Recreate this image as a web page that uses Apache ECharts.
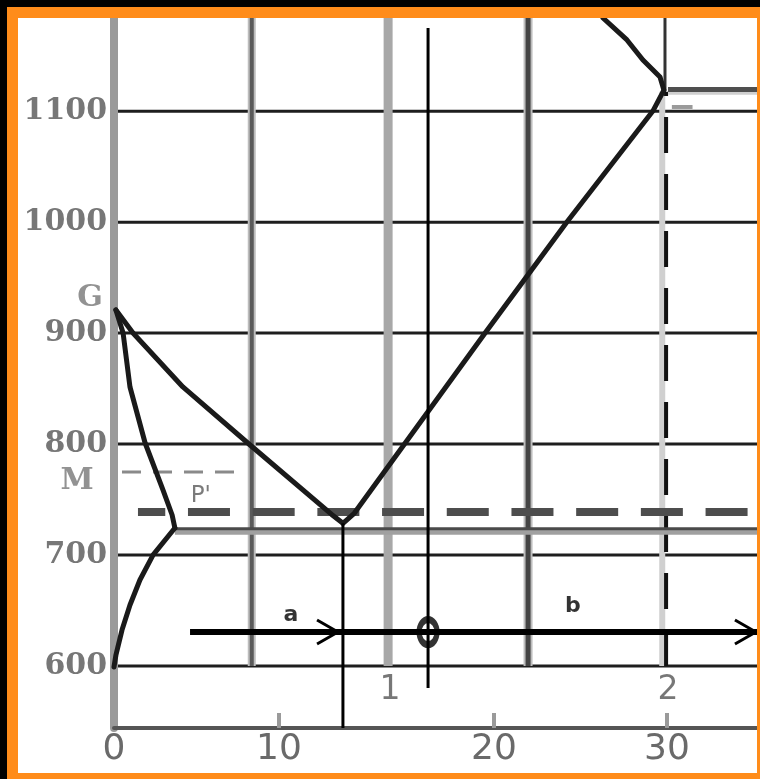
<!DOCTYPE html>
<html><head><meta charset="utf-8">
<script src="https://cdn.jsdelivr.net/npm/echarts@6/dist/echarts.min.js"></script>
<style>
html,body{margin:0;padding:0;background:#000;width:760px;height:779px;overflow:hidden}
#frame{position:absolute;left:7px;top:7px;width:753px;height:772px;background:#FF8C1A}
#chart{position:absolute;left:18px;top:18px;width:739px;height:755px;background:#fff}
</style></head><body>
<div id="frame"></div><div id="chart"></div>
<script>
// ---- axis ranges & ticks ----
const X_MIN = 0, X_MAX = 2.334, Y_MIN = 544, Y_MAX = 1184;
const yTickValues = [600, 700, 800, 900, 1000, 1100];
const yTickLabels = ['600', '700', '800', '900', '1000', '1100'];
const xTickValues = [0, 0.599, 1.379, 2.007];
const xTickLabels = ['0', '10', '20', '30'];
const hGridTemps = [600, 700, 800, 900, 1000, 1100];
const vGridX = [0.5, 0.995, 1.503, 2.0];

// ---- phase boundary curves (x, temperature) ----
const lineGS = [[0.007,920.8],[0.069,900.1],[0.250,851.4],[0.494,799.1],[0.790,736.5],[0.831,728.5]];
const lineGP = [[0.007,920.8],[0.033,900.1],[0.058,851.4],[0.113,800.9],[0.178,758.5],[0.211,736.0],[0.221,724.3]];
const linePQ = [[0.221,724.3],[0.142,700.0],[0.094,677.4],[0.058,654.9],[0.029,632.3],[0.007,609.8],[0,599]];
const lineSE = [[0.831,728.5],[0.872,737.5],[1.347,900.1],[1.644,1000.1],[1.956,1100.1],[1.996,1119]];
const lineEC = [[1.996,1119],[1.982,1130.8],[1.920,1146.1],[1.862,1164.2],[1.775,1184]];

// ---- horizontal reference lines ----
const tempA1 = 723.5;          // eutectoid line
const tempA1Start = 0.221;
const tempDash = 738.7;        // thick dashed line
const tempDashStart = 0.087;
const tempM = 774.8;           // thin dashed line at M
const tempMRange = [0.029, 0.457];
const tempE = 1119.6;          // line at E
const tempERange = [2.011, X_MAX];
const tempSmall = 1103.8;
const smallRange = [2.025, 2.10];

// ---- construction lines ----
const xS = 0.831, tS = 728.5;
const xAlloy = 1.140, alloyRange = [580.1, 1175];
const arrowTemp = 630.5, arrowRange = [0.276, X_MAX];
const arrowTips = [0.813, 2.330];
const arrowBack = 0.076, arrowHalf = 10.8;
const markerPoint = [1.140, 630.5];

// ---- text labels (data coordinates) ----
const smallLabels = [{name:'a', value:[0.642, 645.9]}, {name:'b', value:[1.666, 654.0]}];
const pLabel = [{name:"P'", value:[0.315, 753.1]}];
const compLabels = [{name:'1', value:[1.002, 578.3]}, {name:'2', value:[2.011, 578.3]}];
const pointLabels = [{name:'G', value:[-0.087, 931.6]}, {name:'M', value:[-0.134, 766.6]}];

function seg(data, lineStyle, z) {
  return {type:'line', data:data, symbol:'none', showSymbol:false, silent:true, animation:false,
          clip:false, z:z, lineStyle:lineStyle};
}
const series = [];
// horizontal grid lines
hGridTemps.forEach(t => series.push(seg([[0,t],[X_MAX,t]], {color:'#1e1e1e', width:3}, 1)));
// vertical grid lines
const vStyles = [
  [{color:'#bdbdbd', width:8}, {color:'#5a5a5a', width:4}],
  [{color:'#a8a8a8', width:9}],
  [{color:'#bdbdbd', width:9}, {color:'#444', width:5}],
];
vGridX.slice(0,3).forEach((x,i) => vStyles[i].forEach(st => series.push(seg([[x,600],[x,Y_MAX]], st, 1))));
// the 2.0 line: light strip + black dashes, solid above E
series.push(seg([[vGridX[3]-0.01,600],[vGridX[3]-0.01,tempE-2]], {color:'#d0d0d0', width:6}, 1));
series.push(seg([[vGridX[3]+0.004,600],[vGridX[3]+0.004,tempE-2]], {color:'#111', width:4, type:[36,21]}, 1));
series.push(seg([[vGridX[3],tempE],[vGridX[3],Y_MAX]], {color:'#333', width:3}, 1));

// eutectoid line (gray + dark)
series.push(seg([[tempA1Start,tempA1-2.5],[X_MAX,tempA1-2.5]], {color:'#a0a0a0', width:6}, 2));
series.push(seg([[tempA1Start,tempA1],[X_MAX,tempA1]], {color:'#4a4a4a', width:3}, 2));
// thick dashed line
series.push(seg([[tempDashStart,tempDash],[X_MAX,tempDash]], {color:'#4d4d4d', width:8, type:[42,22.7], dashOffset:14.7}, 2));
// thin dashed line at M
series.push(seg([[tempMRange[0],tempM],[tempMRange[1],tempM]], {color:'#8a8a8a', width:3, type:[19,12]}, 2));
// line at E
series.push(seg([[tempERange[0],tempE-3],[tempERange[1],tempE-3]], {color:'#cfcfcf', width:4}, 2));
series.push(seg([[tempERange[0],tempE],[tempERange[1],tempE]], {color:'#4f4f4f', width:5}, 2));
series.push(seg([[smallRange[0],tempSmall],[smallRange[1],tempSmall]], {color:'#9a9a9a', width:4}, 2));

// phase curves
[lineGS, lineGP, linePQ, lineSE, lineEC].forEach(d => series.push(seg(d, {color:'#1a1a1a', width:5, join:'round', cap:'round'}, 4)));

// construction lines
series.push(seg([[xS,tS],[xS,Y_MIN]], {color:'#000', width:3}, 5));
series.push(seg([[xAlloy,alloyRange[0]],[xAlloy,alloyRange[1]]], {color:'#000', width:3}, 5));
series.push(seg([[arrowRange[0],arrowTemp],[arrowRange[1],arrowTemp]], {color:'#000', width:6}, 5));
arrowTips.forEach(x => series.push(seg([[x-arrowBack,arrowTemp+arrowHalf],[x,arrowTemp],[x-arrowBack,arrowTemp-arrowHalf]], {color:'#000', width:3}, 5)));
series.push({type:'scatter', data:[markerPoint], symbol:'circle', symbolSize:[18,25], silent:true, animation:false, z:6,
  itemStyle:{color:'rgba(0,0,0,0)', borderColor:'#000', borderWidth:6}});

function textSeries(data, lbl) {
  return {type:'scatter', data:data, symbolSize:0, silent:true, animation:false, clip:false, z:7,
    itemStyle:{color:'rgba(0,0,0,0)'},
    label:Object.assign({show:true, position:'inside', formatter:p => p.name}, lbl)};
}
series.push(textSeries(smallLabels, {fontFamily:'DejaVu Sans', fontSize:22, fontWeight:'bold', color:'#000'}));
series.push(textSeries(pLabel, {fontFamily:'DejaVu Sans', fontSize:23, color:'#5a5a5a'}));
series.push(textSeries(compLabels, {fontFamily:'DejaVu Sans', fontSize:33, color:'#555'}));
series.push(textSeries(pointLabels, {fontFamily:'DejaVu Serif', fontSize:30, fontWeight:'bold', color:'#777'}));

function nearestLabel(v, vals, labels) {
  let bi = 0; vals.forEach((t,i) => { if (Math.abs(t-v) < Math.abs(vals[bi]-v)) bi = i; });
  return labels[bi];
}

const option = {
  backgroundColor:'#fff',
  animation:false,
  grid:{left:96, right:0, top:0, bottom:45, containLabel:false},
  xAxis:{type:'value', min:X_MIN, max:X_MAX, z:3,
    axisLine:{show:true, onZero:false, lineStyle:{color:'#555', width:4}},
    axisTick:{show:true, inside:true, length:15, customValues:xTickValues.slice(1), lineStyle:{color:'#9a9a9a', width:4}},
    axisLabel:{show:true, customValues:xTickValues, margin:4, fontFamily:'DejaVu Sans', fontSize:36, color:'#6a6a6a',
      formatter:v => nearestLabel(v, xTickValues, xTickLabels)},
    splitLine:{show:false}},
  yAxis:{type:'value', min:Y_MIN, max:Y_MAX, z:3,
    axisLine:{show:true, onZero:false, lineStyle:{color:'#9a9a9a', width:8}},
    axisTick:{show:false},
    axisLabel:{show:true, customValues:yTickValues, margin:7, fontFamily:'DejaVu Serif', fontSize:30, fontWeight:'bold', color:'#777',
      formatter:v => nearestLabel(v, yTickValues, yTickLabels)},
    splitLine:{show:false}},
  series:series
};
const chart = echarts.init(document.getElementById('chart'));
chart.setOption(option);
</script></body></html>
